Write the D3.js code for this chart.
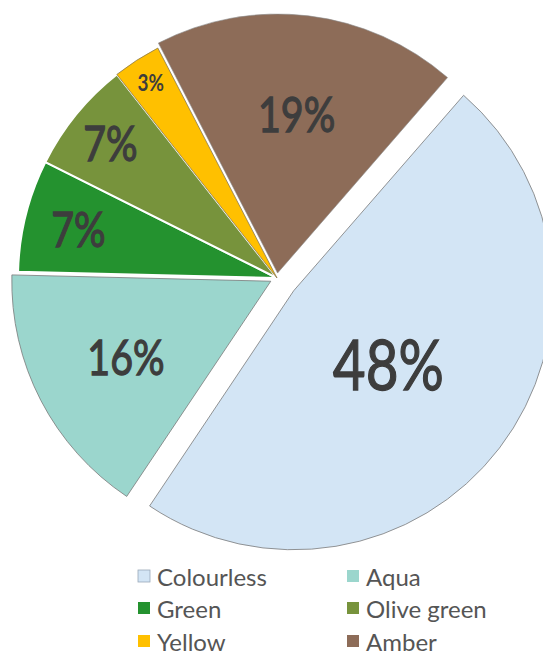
<!DOCTYPE html>
<html>
<head>
<meta charset="utf-8">
<script src="https://cdn.jsdelivr.net/npm/d3@7"></script>
<style>
  html, body { margin: 0; padding: 0; background: #fff; }
  svg { display: block; }
</style>
</head>
<body>
<svg id="chart" width="543" height="655"></svg>
<script>
// Share of glass fragments by colour
const categories = ["Colourless", "Aqua", "Green", "Olive green", "Yellow", "Amber"];
const shares = [48, 16, 7, 7, 3, 19];
const labels = ["48%", "16%", "7%", "7%", "3%", "19%"];

// Appearance
const colors = ["#d3e5f5", "#9bd6cd", "#24922f", "#77933c", "#ffc000", "#8d6c58"];
const explode = [21, 7, 0, 0, 0, 5];           // pull-out distance of each slice
const labelRadius = [0.46, 0.63, 0.79, 0.83, 0.9, 0.62]; // label distance as fraction of radius
const labelSize = [69, 48, 48, 48, 23, 48];
const labelWeight = [400, 400, 400, 400, 700, 400];
const sliceStroke = ["#7a7a7a", "#7a7a7a", "#ffffff", "#ffffff", "#8a7a50", "#8a8a8a"];
const sliceStrokeW = [0.8, 0.8, 2, 2, 0.8, 0.6];

const W = 543, H = 655;
const cx = 277, cy = 278, R = 259;
const startDeg = 41;

const svg = d3.select("#chart");

const pie = d3.pie().sort(null).value(d => d)
  .startAngle(startDeg * Math.PI / 180)
  .endAngle(startDeg * Math.PI / 180 + 2 * Math.PI);
const arcs = pie(shares);
const arc = d3.arc().innerRadius(0).outerRadius(R);

const g = svg.append("g").attr("transform", `translate(${cx},${cy})`);

const slices = g.selectAll("g.slice").data(arcs).join("g")
  .attr("class", "slice")
  .attr("transform", (d, i) => {
    const a = (d.startAngle + d.endAngle) / 2;
    return `translate(${Math.sin(a) * explode[i]},${-Math.cos(a) * explode[i]})`;
  });

slices.append("path")
  .attr("d", arc)
  .attr("fill", (d, i) => colors[i])
  .attr("stroke", (d, i) => sliceStroke[i])
  .attr("stroke-width", (d, i) => sliceStrokeW[i])
  .attr("stroke-linejoin", "miter");

slices.append("text")
  .attr("transform", (d, i) => {
    const a = (d.startAngle + d.endAngle) / 2;
    const r = R * labelRadius[i];
    return `translate(${Math.sin(a) * r},${-Math.cos(a) * r}) scale(0.82,1)`;
  })
  .attr("text-anchor", "middle")
  .attr("dominant-baseline", "central")
  .attr("font-family", "Lato, 'Open Sans', sans-serif")
  .attr("font-size", (d, i) => labelSize[i])
  .attr("font-weight", (d, i) => labelWeight[i])
  .attr("fill", "#3d3d3d")
  .attr("stroke", "#3d3d3d")
  .attr("stroke-width", (d, i) => labelWeight[i] === 700 ? 0 : 1.3)
  .text((d, i) => labels[i]);

// Legend: two columns, three rows
const legendX = [138, 347], legendY = [576, 608, 641];
const legend = svg.append("g").selectAll("g").data(categories).join("g")
  .attr("transform", (d, i) => `translate(${legendX[i % 2]},${legendY[Math.floor(i / 2)]})`);

legend.append("rect")
  .attr("x", 0).attr("y", -6).attr("width", 12).attr("height", 12)
  .attr("fill", (d, i) => colors[i])
  .attr("stroke", (d, i) => i === 0 ? "#9aa9b8" : "none")
  .attr("stroke-width", 0.8);

legend.append("text")
  .attr("x", 19).attr("y", 0)
  .attr("dominant-baseline", "central")
  .attr("font-family", "Lato, 'Open Sans', sans-serif")
  .attr("font-size", 24)
  .attr("fill", "#555555")
  .text(d => d);
</script>
</body>
</html>
